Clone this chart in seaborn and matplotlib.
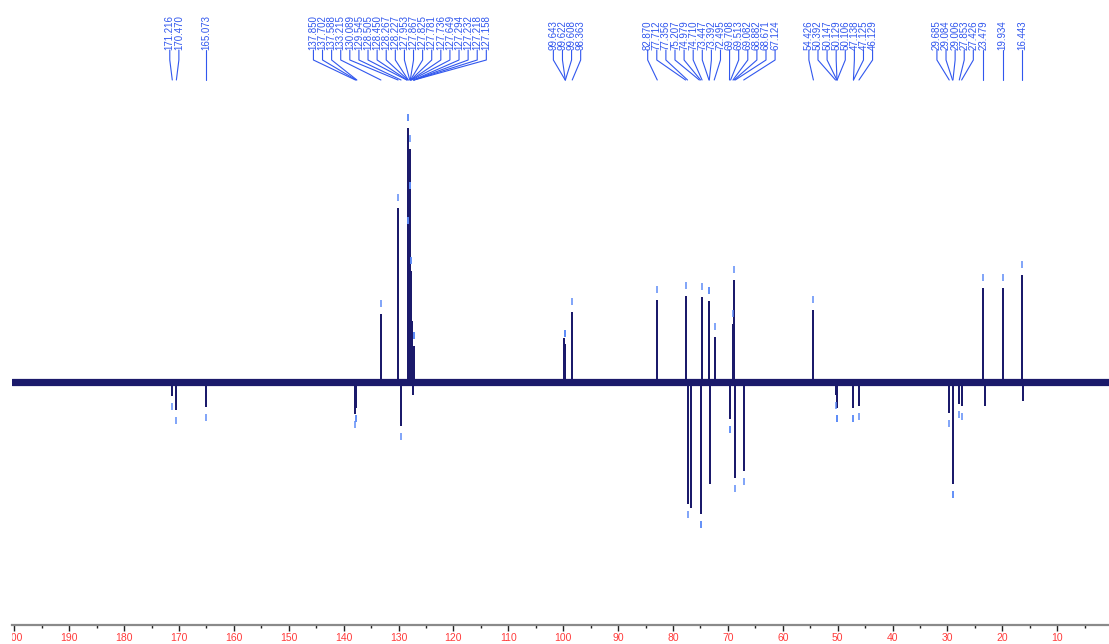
import numpy as np
import pandas as pd
import matplotlib
matplotlib.use("Agg")
import matplotlib.pyplot as plt
import seaborn as sns
from matplotlib.ticker import MultipleLocator

# picked peak labels (ppm), printed across the top
peak_labels = [171.216, 170.470, 165.073,
               137.850, 137.702, 137.588, 133.215, 130.089, 129.545, 128.505,
               128.450, 128.267, 128.227, 127.953, 127.867, 127.825, 127.781,
               127.736, 127.649, 127.294, 127.232, 127.218, 127.158,
               99.643, 99.622, 99.608, 98.363,
               82.870, 77.712, 77.356, 75.207, 74.979, 74.710, 73.447, 73.392,
               72.495, 69.708, 69.513, 69.082, 68.882, 68.671, 67.124,
               54.426, 50.392, 50.147, 50.129, 50.106, 47.138, 47.125, 46.129,
               29.685, 29.084, 29.006, 27.853, 27.426, 23.479, 19.934, 16.443]

# stick spectrum (intensity in arbitrary units, baseline = 0)
peak_ppm = [171.216, 170.47, 165.073, 137.85, 137.70, 133.215, 130.089, 129.545,
            128.35, 128.20, 127.95, 127.85, 127.70, 127.55, 127.45, 127.20,
            99.95, 99.62, 98.363,
            82.87, 77.62, 77.31, 76.77, 74.91, 74.67, 73.40, 73.33, 72.43,
            69.66, 69.06, 68.88, 68.63, 67.124,
            54.426, 50.39, 50.15, 47.138, 46.129,
            29.685, 29.084, 27.853, 27.426, 23.479, 23.10, 19.934, 16.443, 16.30]
peak_int = [-13, -27, -24, -31, -25, 67, 173, -43,
            253, 150, 232, 185, 110, 60, -12, 35,
            43, 37, 69,
            81, 85, -121, -125, -131, 84, 80, -101, 44,
            -36, 57, 101, -95, -88,
            71, -12, -25, -25, -23,
            -30, -101, -21, -23, 93, -23, 93, 106, -18]

ppm_start, ppm_end = 200.45, 0.58

W, H, BASE = 1109, 644, 382   # canvas size, baseline row (px)


def py(px):
    # canvas row -> data y (1 unit = 1 px)
    return BASE - px


def spread(pos, gap):
    # push crowded labels apart, each group centred on its peaks
    groups = [[p] for p in sorted(pos, reverse=True)]
    changed = True
    while changed:
        changed = False
        out = []
        for g in groups:
            if out:
                prev = out[-1]
                prev_end = np.mean(prev) - gap * (len(prev) - 1) / 2
                g_start = np.mean(g) + gap * (len(g) - 1) / 2
                if prev_end - g_start < gap:
                    out[-1] = prev + g
                    changed = True
                    continue
            out.append(g)
        groups = out
    res = []
    for g in groups:
        c, n = np.mean(g), len(g)
        res += [c + gap * ((n - 1) / 2 - i) for i in range(n)]
    return res


sns.set_style("white")
plt.rcParams["font.family"] = ["Liberation Sans", "DejaVu Sans"]

fig = plt.figure(figsize=(W / 100, H / 100), dpi=100)
left = 11.8 / W
ax = fig.add_axes([left, 0, 1 - left, 1])
ax.set_xlim(ppm_start, ppm_end)
ax.set_ylim(BASE - H, BASE)
px_per_ppm = (W * (1 - left)) / (ppm_start - ppm_end)

navy = "#1b1a6b"
blue = "#3157ee"
light = "#5e8cf7"

# baseline (noise band) and peaks
sns.lineplot(x=[ppm_start, ppm_end], y=[0, 0], color=navy, lw=5.2, ax=ax)
order = np.argsort(peak_ppm)[::-1]
xs, ys = [ppm_start], [0]
for i in order:
    xs += [peak_ppm[i]] * 3
    ys += [0, peak_int[i], 0]
xs.append(ppm_end)
ys.append(0)
spec = pd.DataFrame({"ppm": xs, "intensity": ys})
sns.lineplot(data=spec, x="ppm", y="intensity", sort=False, estimator=None,
             color=navy, lw=1.3, ax=ax)

# peak-pick markers
pp = np.array(peak_ppm)
pi = np.array(peak_int)
for lab in peak_labels:
    k = np.argmin(np.abs(pp - lab))
    h = pi[k]
    s = np.sign(h)
    ax.plot([pp[k], pp[k]], [h + s * 8, h + s * 15], color=light, lw=1.1,
            solid_capstyle="butt")

# labels and leader lines
lab_x = spread(peak_labels, 9.1 / px_per_ppm)
for lab, xl in zip(sorted(peak_labels, reverse=True), lab_x):
    ax.text(xl, py(50), f"{lab:.3f}", rotation=90, ha="center", va="bottom",
            fontsize=7, color=blue)
    ax.plot([xl, xl, lab], [py(50), py(60), py(80)], color=blue, lw=0.8)

# ppm axis
for side in ["top", "left", "right"]:
    ax.spines[side].set_visible(False)
ax.spines["bottom"].set_position(("data", py(625.4)))
ax.spines["bottom"].set_color("#8a8a8a")
ax.spines["bottom"].set_linewidth(1.6)
ticks = list(range(200, 0, -10))
ax.set_xticks(ticks, [str(t) for t in ticks])
ax.xaxis.set_minor_locator(MultipleLocator(5))
ax.tick_params(axis="x", which="major", bottom=True, direction="out", length=4,
               width=1, color="#222222", labelcolor="#ff3b3b", labelsize=7.5, pad=1.5)
ax.tick_params(axis="x", which="minor", bottom=True, direction="out", length=2.5,
               width=1, color="#222222")
ax.set_yticks([])
ax.set_xlabel("")
ax.set_ylabel("")
for lbl in ax.get_xticklabels():
    lbl.set_clip_on(True)
    lbl.set_clip_box(ax.bbox)

fig.savefig("out.png", dpi=100)
